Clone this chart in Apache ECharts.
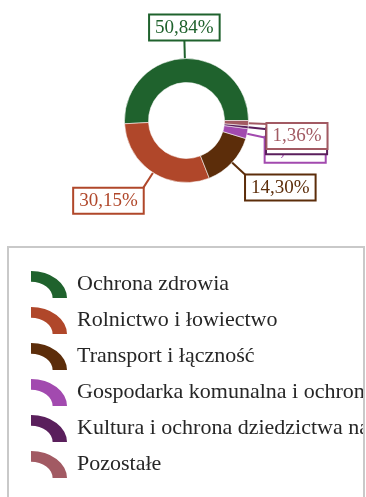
<!DOCTYPE html>
<html>
<head>
<meta charset="utf-8">
<script src="https://cdn.jsdelivr.net/npm/echarts@6/dist/echarts.min.js"></script>
<style>
  html, body { margin: 0; padding: 0; background: #fff; }
  #chart { width: 366px; height: 497px; }
</style>
</head>
<body>
<div id="chart"></div>
<script>
// Budget shares by section (percent)
const categories = [
  'Ochrona zdrowia',
  'Rolnictwo i łowiectwo',
  'Transport i łączność',
  'Gospodarka komunalna i ochrona środowiska',
  'Kultura i ochrona dziedzictwa narodowego',
  'Pozostałe'
];
const shares = [50.84, 30.15, 14.30, 2.60, 0.75, 1.36];
const colors = ['#1f622d', '#b0472a', '#5c2d0a', '#a24aaf', '#5a1f5c', '#a25a63'];

const serif = '"Liberation Serif", "Times New Roman", serif';

const chart = echarts.init(document.getElementById('chart'), null, { renderer: 'canvas' });

const pieData = categories.map((name, i) => ({
  name: name,
  value: shares[i],
  itemStyle: { color: colors[i] },
  label: { color: colors[i], borderColor: colors[i] },
  labelLine: { lineStyle: { color: colors[i] } }
}));

chart.setOption({
  backgroundColor: '#fff',
  animation: false,
  legend: {
    orient: 'vertical',
    left: 8,
    top: 247,
    padding: [24, 0, 0, 23],
    itemWidth: 36,
    itemHeight: 27,
    itemGap: 9,
    selectedMode: false,
    symbolKeepAspect: false,
    icon: 'path://M0 0A100 100 0 0 1 100 100L60 100A60 60 0 0 0 0 40Z',
    itemStyle: { borderWidth: 0 },
    textStyle: {
      fontFamily: serif,
      fontSize: 22,
      color: '#262626',
      padding: [0, 0, 0, 5]
    },
    data: categories
  },
  graphic: [
    {
      type: 'rect', z: 100, silent: true,
      shape: { x: 363.5, y: 249, width: 4, height: 250 },
      style: { fill: '#fff' }
    },
    {
      type: 'rect', z: 101, silent: true,
      shape: { x: 8, y: 247, width: 356, height: 262 },
      style: { fill: 'none', stroke: '#c9c9c9', lineWidth: 2 }
    }
  ],
  series: [{
    type: 'pie',
    center: [186.5, 120.5],
    radius: [38, 62],
    startAngle: 0,
    clockwise: false,
    avoidLabelOverlap: false,
    itemStyle: { borderColor: 'rgba(255,255,255,0.55)', borderWidth: 1 },
    label: {
      show: true,
      position: 'outside',
      formatter: p => p.value.toFixed(2).replace('.', ',') + '%',
      fontFamily: serif,
      fontSize: 19,
      backgroundColor: '#fff',
      borderWidth: 2,
      padding: [3, 5, 2, 5]
    },
    labelLine: {
      show: true,
      length: 19,
      length2: 0,
      lineStyle: { width: 2 }
    },
    // attach each label box to the end of its radial leader line
    labelLayout: function (p) {
      const pts = p.labelLinePoints;
      if (!pts) return {};
      const a = pts[0], b = pts[1];
      const dx = b[0] - a[0], dy = b[1] - a[1];
      const len = Math.hypot(dx, dy) || 1;
      const ux = dx / len, uy = dy / len;
      return {
        x: b[0],
        y: b[1],
        align: ux > 0.3 ? 'left' : (ux < -0.3 ? 'right' : 'center'),
        verticalAlign: uy < 0 ? 'bottom' : 'top',
        labelLinePoints: [a, b, b]
      };
    },
    emphasis: { disabled: true },
    data: pieData
  }]
});
</script>
</body>
</html>
